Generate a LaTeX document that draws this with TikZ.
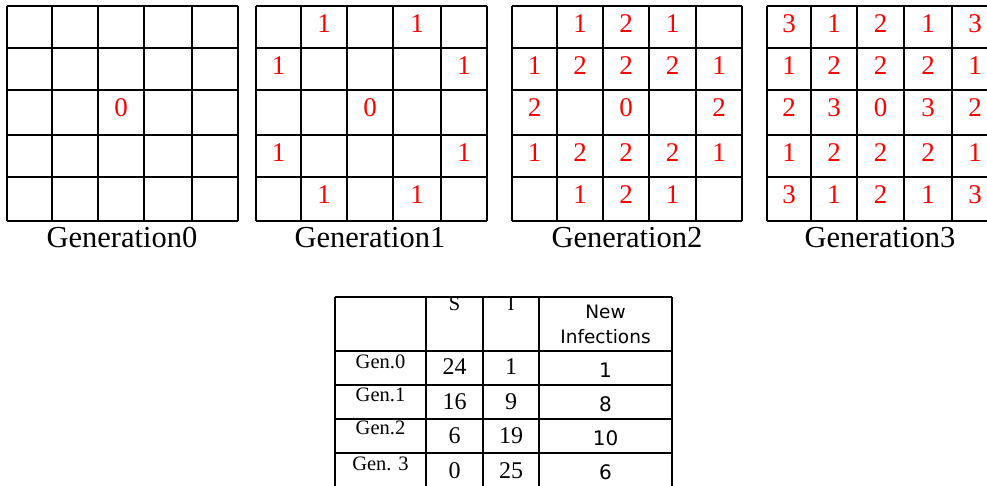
\documentclass[tikz,border=0pt]{standalone}
\usepackage{fontspec}
\usetikzlibrary{calc}
\setmainfont{Liberation Serif}
\newfontfamily\tabsans{DejaVu Sans}
\definecolor{numred}{RGB}{255,0,0}
\begin{document}
\begin{tikzpicture}[x=1pt,y=-1pt,
  gridline/.style={line width=1.6pt,black},
  tabline/.style={line width=1.6pt,black},
  cellnum/.style={anchor=base,inner sep=0pt,text=numred,font=\fontsize{27}{27}\selectfont},
  genlabel/.style={anchor=base,inner sep=0pt,font=\fontsize{30.5}{30.5}\selectfont},
  tabhead/.style={anchor=base,inner sep=0pt,font=\fontsize{20.5}{20.5}\selectfont},
  tabnum/.style={anchor=base,inner sep=0pt,font=\fontsize{24}{24}\selectfont},
  tabsansnum/.style={anchor=base,inner sep=0pt,font=\tabsans\fontsize{20}{20}\selectfont},
  tabsanshead/.style={anchor=base,inner sep=0pt,font=\tabsans\fontsize{18.5}{18.5}\selectfont}]
\useasboundingbox (0,0) rectangle (987,485);
\clip (0,0) rectangle (987,485);
\fill[white] (0,0) rectangle (987,485);
% ---------- grids ----------
\def\rows{6,48,90,135,177,221}
\foreach \g/\cols in {0/{7,52,98,144,192,238},1/{256,301,347,393,441,487},2/{512,557,603,649,696,742},3/{767,811,857,904,952,998}}{
  \foreach \x [count=\i] in \cols { \ifnum\i=1 \xdef\xa{\x}\fi \ifnum\i=6 \xdef\xb{\x}\fi }
  \foreach \x in \cols { \draw[gridline] (\x,6) -- (\x,221); }
  \foreach \y in \rows { \draw[gridline] (\xa,\y) -- (\xb,\y); }
  \foreach \x [count=\i] in \cols { \coordinate (g\g-c\i) at (\x,0); }
}
\foreach \y [count=\i] in \rows { \coordinate (row\i) at (0,\y); }
% cell numbers: grid/row/col/value (rows,cols 0-based)
\foreach \g/\r/\c/\v in {
 0/2/2/0,
 1/0/1/1,1/0/3/1,1/1/0/1,1/1/4/1,1/2/2/0,1/3/0/1,1/3/4/1,1/4/1/1,1/4/3/1,
 2/0/1/1,2/0/2/2,2/0/3/1,
 2/1/0/1,2/1/1/2,2/1/2/2,2/1/3/2,2/1/4/1,
 2/2/0/2,2/2/2/0,2/2/4/2,
 2/3/0/1,2/3/1/2,2/3/2/2,2/3/3/2,2/3/4/1,
 2/4/1/1,2/4/2/2,2/4/3/1,
 3/0/0/3,3/0/1/1,3/0/2/2,3/0/3/1,3/0/4/3,
 3/1/0/1,3/1/1/2,3/1/2/2,3/1/3/2,3/1/4/1,
 3/2/0/2,3/2/1/3,3/2/2/0,3/2/3/3,3/2/4/2,
 3/3/0/1,3/3/1/2,3/3/2/2,3/3/3/2,3/3/4/1,
 3/4/0/3,3/4/1/1,3/4/2/2,3/4/3/1,3/4/4/3}{
  \pgfmathtruncatemacro{\ca}{\c+1}
  \pgfmathtruncatemacro{\cb}{\c+2}
  \pgfmathtruncatemacro{\ra}{\r+1}
  \node[cellnum] (n\g-\r-\c) at ($ (g\g-c\ca)!0.5!(g\g-c\cb) + (row\ra) + (0,26) $) {\v};
}
% labels
\node[genlabel] (lab0) at (122,247) {Generation0};
\node[genlabel] (lab1) at (370,247) {Generation1};
\node[genlabel] (lab2) at (627,247) {Generation2};
\node[genlabel] (lab3) at (880,247) {Generation3};
% ---------- table ----------
\foreach \x in {335,426,483,539,672} { \draw[tabline] (\x,297) -- (\x,490); }
\foreach \y in {297,351,385,419,453,487} { \draw[tabline] (335,\y) -- (672,\y); }
\node[tabhead] (hS) at (454.5,310) {S};
\node[tabhead] (hI) at (511,310) {I};
\node[tabsanshead] (hNew) at (605.5,318) {New};
\node[tabsanshead] (hInf) at (605.5,343) {Infections};
\node[tabhead] (r0) at (380.5,368) {Gen.0};
\node[tabhead] (r1) at (380.5,401) {Gen.1};
\node[tabhead] (r2) at (380.5,434) {Gen.2};
\node[tabhead] (r3) at (380.5,470) {Gen. 3};
\node[tabnum] (s0) at (454.5,374) {24};
\node[tabnum] (s1) at (454.5,409) {16};
\node[tabnum] (s2) at (454.5,443) {6};
\node[tabnum] (s3) at (454.5,478) {0};
\node[tabnum] (i0) at (511,374) {1};
\node[tabnum] (i1) at (511,409) {9};
\node[tabnum] (i2) at (511,443) {19};
\node[tabnum] (i3) at (511,478) {25};
\node[tabsansnum] (ni0) at (605.5,377) {1};
\node[tabsansnum] (ni1) at (605.5,411) {8};
\node[tabsansnum] (ni2) at (605.5,445) {10};
\node[tabsansnum] (ni3) at (605.5,479) {6};
\end{tikzpicture}
\end{document}
